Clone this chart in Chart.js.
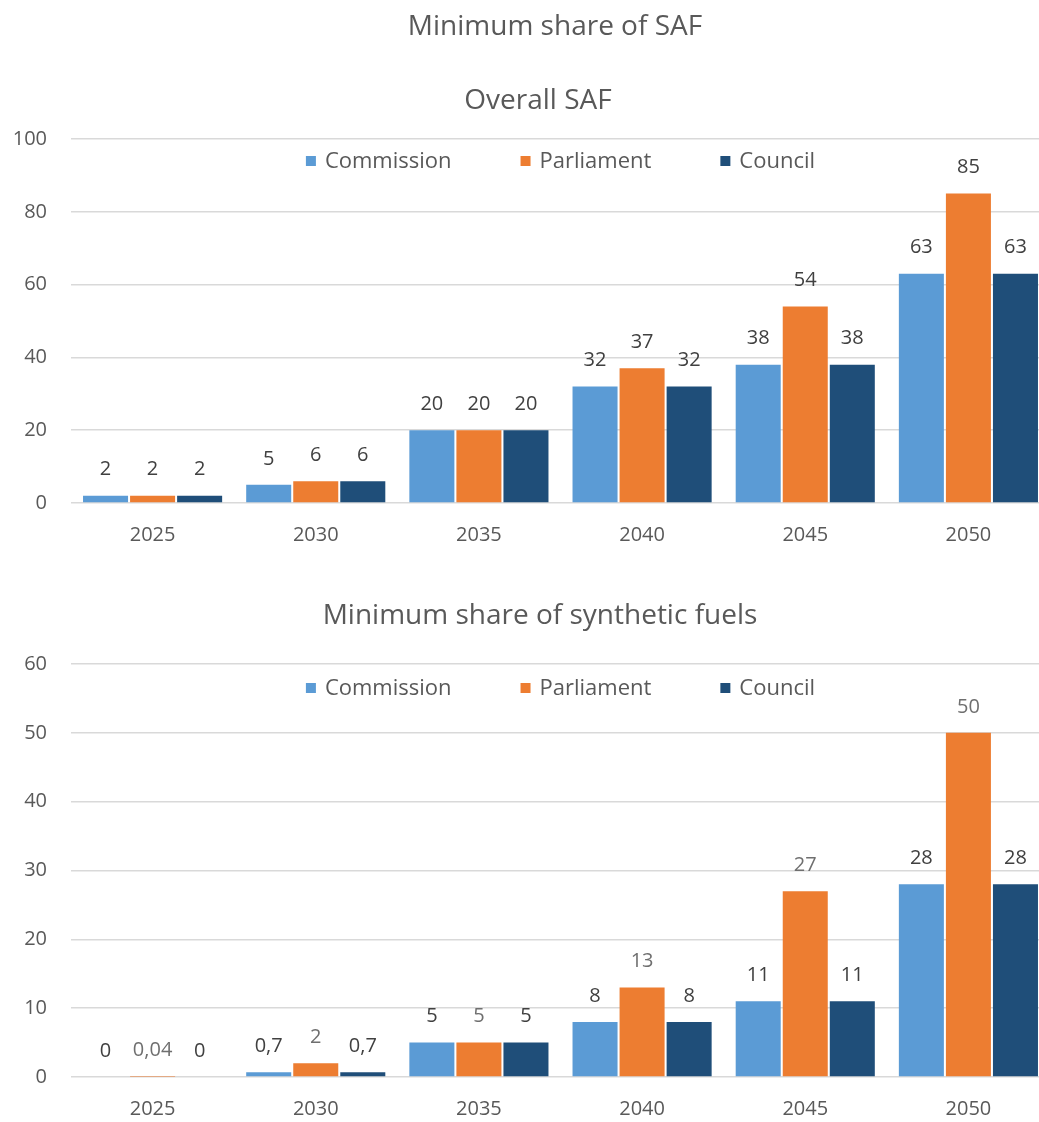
<!DOCTYPE html>
<html>
<head>
<meta charset="utf-8">
<title>Minimum share of SAF</title>
<script src="https://cdn.jsdelivr.net/npm/chart.js@4.4.1/dist/chart.umd.min.js"></script>
<style>
  html, body { margin: 0; padding: 0; background: #fff; overflow: hidden; }
  .wrap { width: 1050px; position: relative; }
  canvas { display: block; }
  .ttl {
    position: absolute;
    font-family: 'Open Sans', sans-serif;
    font-size: 28px;
    line-height: 28px;
    color: #595959;
    white-space: nowrap;
    transform: translateX(-50%);
  }
</style>
</head>
<body>
<div class="wrap">
  <canvas id="safChart" width="1050" height="560"></canvas>
  <canvas id="synChart" width="1050" height="562"></canvas>
  <div class="ttl" style="left:555px; top:10px;">Minimum share of SAF</div>
  <div class="ttl" style="left:538px; top:84px;">Overall SAF</div>
  <div class="ttl" style="left:540px; top:599px;">Minimum share of synthetic fuels</div>
</div>
<script>
// data
const years = ['2025', '2030', '2035', '2040', '2045', '2050'];
const seriesNames = ['Commission', 'Parliament', 'Council'];
const seriesColors = ['#5B9BD5', '#ED7D31', '#1F4E79'];

const safCommission = [2, 5, 20, 32, 38, 63];
const safParliament = [2, 6, 20, 37, 54, 85];
const safCouncil = [2, 6, 20, 32, 38, 63];

const synCommission = [0, 0.7, 5, 8, 11, 28];
const synParliament = [0.04, 2, 5, 13, 27, 50];
const synCouncil = [0, 0.7, 5, 8, 11, 28];

const safTicks = { max: 100, step: 20 };
const synTicks = { max: 60, step: 10 };

Chart.defaults.font.family = "'Open Sans', sans-serif";
Chart.defaults.color = '#595959';

// nombres avec virgule décimale
function fmt(v) {
    return String(v).replace('.', ',');
}

// étiquettes au-dessus des barres
const valueLabels = {
    id: 'valueLabels',
    afterDatasetsDraw(chart, args, opts) {
        const ctx = chart.ctx;
        ctx.save();
        ctx.font = "20px 'Open Sans', sans-serif";
        ctx.textAlign = 'center';
        ctx.textBaseline = 'middle';
        chart.data.datasets.forEach((ds, i) => {
            const meta = chart.getDatasetMeta(i);
            ctx.fillStyle = (opts.colors && opts.colors[i]) || '#404040';
            meta.data.forEach((bar, j) => {
                ctx.fillText(fmt(ds.data[j]), bar.x, bar.y - 26);
            });
        });
        ctx.restore();
    }
};

// légende dans la zone du graphique
const innerLegend = {
    id: 'innerLegend',
    afterDraw(chart, args, opts) {
        const ctx = chart.ctx;
        const area = chart.chartArea;
        ctx.save();
        ctx.font = "22px 'Open Sans', sans-serif";
        ctx.textBaseline = 'middle';
        const box = 10, boxGap = 9, itemGap = 69;
        const widths = chart.data.datasets.map(ds => ctx.measureText(ds.label).width);
        let total = 0;
        widths.forEach(w => total += box + boxGap + w);
        total += itemGap * (widths.length - 1);
        let x = (area.left + area.right) / 2 - total / 2;
        const y = area.top + opts.offset;
        chart.data.datasets.forEach((ds, i) => {
            ctx.fillStyle = ds.backgroundColor;
            ctx.fillRect(x, y - box / 2, box, box);
            ctx.fillStyle = '#595959';
            ctx.fillText(ds.label, x + box + boxGap, y + 1);
            x += box + boxGap + widths[i] + itemGap;
        });
        ctx.restore();
    }
};

function makeDatasets(values) {
    return values.map((vals, i) => ({
        label: seriesNames[i],
        data: vals,
        backgroundColor: seriesColors[i],
        borderWidth: 0,
        barPercentage: 0.957,
        categoryPercentage: 0.865
    }));
}

function makeScales(t, xHeight) {
    return {
        x: {
            afterFit(scale) { scale.height = xHeight; },
            grid: { display: false, drawTicks: false },
            border: { display: false },
            ticks: { font: { size: 20 }, color: '#595959', padding: 20 }
        },
        y: {
            min: 0,
            max: t.max,
            afterFit(scale) { scale.width = 71; },
            grid: { color: '#d9d9d9', lineWidth: 1.6, drawTicks: false },
            border: { display: false },
            ticks: { stepSize: t.step, font: { size: 20 }, color: '#595959', padding: 24 }
        }
    };
}

// Graphique 1 : Overall SAF
new Chart(document.getElementById('safChart').getContext('2d'), {
    type: 'bar',
    data: {
        labels: years,
        datasets: makeDatasets([safCommission, safParliament, safCouncil])
    },
    options: {
        responsive: false,
        animation: false,
        layout: { padding: { left: 0, right: 0, top: 139, bottom: 0 } },
        plugins: {
            legend: { display: false },
            tooltip: { enabled: false },
            valueLabels: { colors: ['#404040', '#404040', '#404040'] },
            innerLegend: { offset: 22 }
        },
        scales: makeScales(safTicks, 57)
    },
    plugins: [valueLabels, innerLegend]
});

// Graphique 2 : carburants synthétiques
new Chart(document.getElementById('synChart').getContext('2d'), {
    type: 'bar',
    data: {
        labels: years,
        datasets: makeDatasets([synCommission, synParliament, synCouncil])
    },
    options: {
        responsive: false,
        animation: false,
        layout: { padding: { left: 0, right: 0, top: 104, bottom: 0 } },
        plugins: {
            legend: { display: false },
            tooltip: { enabled: false },
            valueLabels: { colors: ['#404040', '#6f6f6f', '#404040'] },
            innerLegend: { offset: 24 }
        },
        scales: makeScales(synTicks, 45)
    },
    plugins: [valueLabels, innerLegend]
});
</script>
</body>
</html>
